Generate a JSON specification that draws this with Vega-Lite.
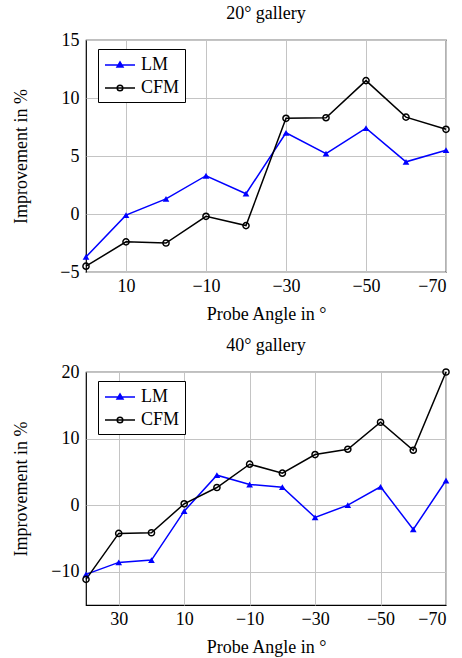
{
  "$schema": "https://vega.github.io/schema/vega-lite/v6.json",
  "padding": {"left": 11, "top": 4, "right": 5, "bottom": 5},
  "background": "white",
  "config": {
    "font": "Liberation Serif",
    "view": {"stroke": "black", "strokeWidth": 1.2},
    "axis": {
      "labelFont": "Liberation Serif", "labelFontSize": 18, "labelColor": "black",
      "titleFont": "Liberation Serif", "titleFontSize": 18, "titleFontWeight": "normal", "titleColor": "black",
      "gridColor": "#c4c4c4", "gridWidth": 1, "gridOpacity": 1,
      "domain": false, "ticks": false
    },
    "axisX": {"labelPadding": 5, "titleY": 33},
    "axisY": {"labelPadding": 7, "titleX": -56},
    "title": {"font": "Liberation Serif", "fontSize": 18, "fontWeight": "normal", "color": "black", "offset": 8},
    "legend": {"labelFont": "Liberation Serif", "labelFontSize": 18, "labelColor": "black"},
    "concat": {"spacing": 12}
  },
  "datasets": {
    "g20": [
      {"angle": 20, "value": -3.7, "series": "LM"},
      {"angle": 10, "value": -0.1, "series": "LM"},
      {"angle": 0, "value": 1.3, "series": "LM"},
      {"angle": -10, "value": 3.3, "series": "LM"},
      {"angle": -20, "value": 1.75, "series": "LM"},
      {"angle": -30, "value": 7.0, "series": "LM"},
      {"angle": -40, "value": 5.2, "series": "LM"},
      {"angle": -50, "value": 7.4, "series": "LM"},
      {"angle": -60, "value": 4.5, "series": "LM"},
      {"angle": -70, "value": 5.5, "series": "LM"},
      {"angle": 20, "value": -4.5, "series": "CFM"},
      {"angle": 10, "value": -2.4, "series": "CFM"},
      {"angle": 0, "value": -2.5, "series": "CFM"},
      {"angle": -10, "value": -0.2, "series": "CFM"},
      {"angle": -20, "value": -1.0, "series": "CFM"},
      {"angle": -30, "value": 8.25, "series": "CFM"},
      {"angle": -40, "value": 8.3, "series": "CFM"},
      {"angle": -50, "value": 11.5, "series": "CFM"},
      {"angle": -60, "value": 8.35, "series": "CFM"},
      {"angle": -70, "value": 7.3, "series": "CFM"}
    ],
    "g40": [
      {"angle": 40, "value": -10.4, "series": "LM"},
      {"angle": 30, "value": -8.6, "series": "LM"},
      {"angle": 20, "value": -8.25, "series": "LM"},
      {"angle": 10, "value": -0.9, "series": "LM"},
      {"angle": 0, "value": 4.5, "series": "LM"},
      {"angle": -10, "value": 3.1, "series": "LM"},
      {"angle": -20, "value": 2.7, "series": "LM"},
      {"angle": -30, "value": -1.85, "series": "LM"},
      {"angle": -40, "value": 0.0, "series": "LM"},
      {"angle": -50, "value": 2.75, "series": "LM"},
      {"angle": -60, "value": -3.65, "series": "LM"},
      {"angle": -70, "value": 3.7, "series": "LM"},
      {"angle": 40, "value": -11.15, "series": "CFM"},
      {"angle": 30, "value": -4.25, "series": "CFM"},
      {"angle": 20, "value": -4.15, "series": "CFM"},
      {"angle": 10, "value": 0.2, "series": "CFM"},
      {"angle": 0, "value": 2.65, "series": "CFM"},
      {"angle": -10, "value": 6.15, "series": "CFM"},
      {"angle": -20, "value": 4.8, "series": "CFM"},
      {"angle": -30, "value": 7.6, "series": "CFM"},
      {"angle": -40, "value": 8.4, "series": "CFM"},
      {"angle": -50, "value": 12.45, "series": "CFM"},
      {"angle": -60, "value": 8.25, "series": "CFM"},
      {"angle": -70, "value": 20.0, "series": "CFM"}
    ]
  },
  "vconcat": [
    {
      "title": "20° gallery",
      "width": 360,
      "height": 232,
      "data": {"name": "g20"},
      "encoding": {
        "x": {"field": "angle", "type": "quantitative", "title": "Probe Angle in °",
              "scale": {"domain": [20, -70], "nice": false, "zero": false},
              "axis": {"values": [10, -10, -30, -50, -70]}},
        "y": {"field": "value", "type": "quantitative", "title": "Improvement in %",
              "scale": {"domain": [-5, 15], "nice": false, "zero": false},
              "axis": {"values": [-5, 0, 5, 10, 15]}}
      },
      "layer": [
        {
          "mark": {"type": "line", "strokeWidth": 1.5},
          "encoding": {
            "color": {"field": "series", "type": "nominal",
                      "scale": {"domain": ["LM", "CFM"], "range": ["#0000ff", "#000000"]},
                      "legend": {"title": null, "orient": "none", "legendX": 12, "legendY": 9,
                                 "strokeColor": "black", "fillColor": "white", "padding": 5,
                                 "symbolSize": 400, "rowPadding": 3, "symbolOffset": 6, "labelOffset": 10,
                                 "encode": {"symbols": {"update": {
                                   "shape": {"signal": "datum.value === 'LM' ? 'M-1.5,0L1.5,0M0,-0.3L0.3,0.2L-0.3,0.2Z' : 'M-1.5,0L1.5,0M0.28,0A0.28,0.28,0,1,1,-0.28,0A0.28,0.28,0,1,1,0.28,0'"},
                                   "fill": {"signal": "datum.value === 'LM' ? '#0000ff' : 'transparent'"},
                                   "stroke": {"signal": "datum.value === 'LM' ? '#0000ff' : '#000000'"},
                                   "strokeWidth": {"value": 1.5}
                                 }}}}}
          }
        },
        {
          "transform": [{"filter": "datum.series === 'LM'"}],
          "mark": {"type": "point", "shape": "triangle-up", "size": 45, "filled": true, "color": "#0000ff", "opacity": 1}
        },
        {
          "transform": [{"filter": "datum.series === 'CFM'"}],
          "mark": {"type": "point", "shape": "circle", "size": 38, "filled": false, "color": "#000000", "strokeWidth": 1.5, "opacity": 1}
        }
      ]
    },
    {
      "title": "40° gallery",
      "width": 360,
      "height": 233,
      "data": {"name": "g40"},
      "encoding": {
        "x": {"field": "angle", "type": "quantitative", "title": "Probe Angle in °",
              "scale": {"domain": [40, -70], "nice": false, "zero": false},
              "axis": {"values": [30, 10, -10, -30, -50, -70]}},
        "y": {"field": "value", "type": "quantitative", "title": "Improvement in %",
              "scale": {"domain": [-15, 20], "nice": false, "zero": false},
              "axis": {"values": [-10, 0, 10, 20]}}
      },
      "layer": [
        {
          "mark": {"type": "line", "strokeWidth": 1.5},
          "encoding": {
            "color": {"field": "series", "type": "nominal",
                      "scale": {"domain": ["LM", "CFM"], "range": ["#0000ff", "#000000"]},
                      "legend": {"title": null, "orient": "none", "legendX": 12, "legendY": 9,
                                 "strokeColor": "black", "fillColor": "white", "padding": 5,
                                 "symbolSize": 400, "rowPadding": 3, "symbolOffset": 6, "labelOffset": 10,
                                 "encode": {"symbols": {"update": {
                                   "shape": {"signal": "datum.value === 'LM' ? 'M-1.5,0L1.5,0M0,-0.3L0.3,0.2L-0.3,0.2Z' : 'M-1.5,0L1.5,0M0.28,0A0.28,0.28,0,1,1,-0.28,0A0.28,0.28,0,1,1,0.28,0'"},
                                   "fill": {"signal": "datum.value === 'LM' ? '#0000ff' : 'transparent'"},
                                   "stroke": {"signal": "datum.value === 'LM' ? '#0000ff' : '#000000'"},
                                   "strokeWidth": {"value": 1.5}
                                 }}}}}
          }
        },
        {
          "transform": [{"filter": "datum.series === 'LM'"}],
          "mark": {"type": "point", "shape": "triangle-up", "size": 45, "filled": true, "color": "#0000ff", "opacity": 1}
        },
        {
          "transform": [{"filter": "datum.series === 'CFM'"}],
          "mark": {"type": "point", "shape": "circle", "size": 38, "filled": false, "color": "#000000", "strokeWidth": 1.5, "opacity": 1}
        }
      ]
    }
  ],
  "resolve": {"scale": {"color": "independent", "x": "independent", "y": "independent"}, "legend": {"color": "independent"}}
}
